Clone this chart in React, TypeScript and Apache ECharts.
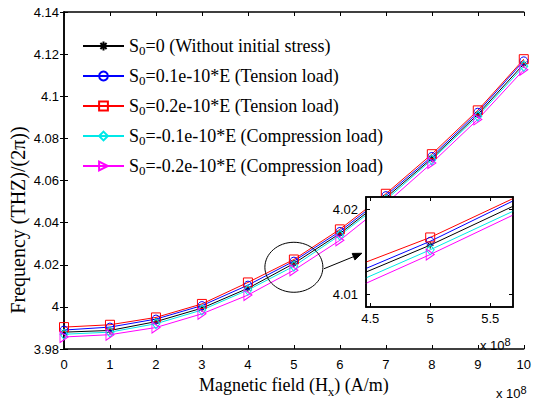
import React, { useEffect, useRef } from 'react';
import * as echarts from 'echarts';

// ---------- data ----------
const fieldValues = [0, 1, 2, 3, 4, 5, 6, 7, 8, 9, 10]; // x 10^8 A/m
const seriesNames = [
  'S0=0 (Without initial stress)',
  'S0=0.1e-10*E (Tension load)',
  'S0=0.2e-10*E (Tension load)',
  'S0=-0.1e-10*E (Compression load)',
  'S0=-0.2e-10*E (Compression load)',
];
const noStress = [3.988, 3.9888, 3.993, 3.9994, 4.0088, 4.0206, 4.0348, 4.0518, 4.0705, 4.0914, 4.1153];
const tension01 = [3.989, 3.9904, 3.9942, 4.0006, 4.0103, 4.0217, 4.0358, 4.0528, 4.0714, 4.0924, 4.1168];
const tension02 = [3.9904, 3.9915, 3.995, 4.0014, 4.0116, 4.0225, 4.0368, 4.0537, 4.0725, 4.0933, 4.1176];
const compression01 = [3.987, 3.988, 3.992, 3.9985, 4.008, 4.0193, 4.034, 4.0508, 4.0698, 4.0905, 4.1142];
const compression02 = [3.9857, 3.9868, 3.9902, 3.9967, 4.0056, 4.0174, 4.0316, 4.049, 4.0683, 4.089, 4.1126];

// inset (zoomed view around 5 x 10^8)
const insetField = [4, 5, 6];
const insetNoStress = [4.0099, 4.0158, 4.0224];
const insetTension01 = [4.0103, 4.01625, 4.0231];
const insetTension02 = [4.0113, 4.0167, 4.0233];
const insetCompression01 = [4.0091, 4.01525, 4.0218];
const insetCompression02 = [4.0084, 4.0147, 4.0214];
const insetXTicks = [4.5, 5, 5.5];
const insetYTicks = [4.01, 4.02];

// ---------- styles ----------
const SERIF = "'Liberation Serif', 'Times New Roman', serif";
const SANS = "'Liberation Sans', Arial, sans-serif";
const ASTERISK = 'path://M5,0L5,10M0,5L10,5M1.5,1.5L8.5,8.5M1.5,8.5L8.5,1.5';
const TRIANGLE_RIGHT = 'path://M0,0L8,5.5L0,11Z';

const looks: { color: string; symbol: string; size: number | number[] }[] = [
  { color: '#000000', symbol: ASTERISK, size: 7 },
  { color: '#0000ff', symbol: 'circle', size: 8 },
  { color: '#ff0000', symbol: 'rect', size: 9 },
  { color: '#00e8e8', symbol: 'diamond', size: [8, 10] },
  { color: '#ff00ff', symbol: TRIANGLE_RIGHT, size: [8, 11] },
];

function makeSeries(name: string, xs: number[], ys: number[], look: any, axisIndex: number, z: number) {
  return {
    type: 'line',
    name,
    data: xs.map((x, i) => [x, ys[i]]),
    xAxisIndex: axisIndex,
    yAxisIndex: axisIndex,
    symbol: look.symbol,
    symbolSize: look.size,
    showAllSymbol: true,
    clip: true,
    z,
    lineStyle: { color: look.color, width: 1 },
    itemStyle: { color: 'transparent', borderColor: look.color, borderWidth: 1 },
    emphasis: { disabled: true },
  };
}

export default function App() {
  const ref = useRef<HTMLDivElement>(null);
  useEffect(() => {
    if (!ref.current) return;
    const chart = echarts.init(ref.current, undefined, { renderer: 'svg' });
    const mainSets = [noStress, tension01, tension02, compression01, compression02];
    const insetSets = [insetNoStress, insetTension01, insetTension02, insetCompression01, insetCompression02];

    const tickLabel = { color: '#000', fontFamily: SANS, fontSize: 13 };
    const axisLine = { show: true, lineStyle: { color: '#000', width: 1.5 } };
    const inTick = { show: true, inside: true, length: 4, lineStyle: { color: '#000', width: 1 } };

    const option: any = {
      animation: false,
      backgroundColor: '#fff',
      grid: [
        { left: 64, top: 12, right: 7, bottom: 52, show: false },
        {
          left: 366, top: 197, width: 147, height: 110, show: true, z: 10,
          backgroundColor: '#fff', borderColor: '#000', borderWidth: 1.5,
        },
      ],
      legend: {
        data: seriesNames,
        orient: 'vertical',
        left: 82,
        top: 37,
        padding: 0,
        itemGap: 10,
        itemWidth: 41,
        itemHeight: 11,
        selectedMode: false,
        formatter: (name: string) => `{a|S}{s|0}{a|${name.slice(2)}}`,
        textStyle: {
          color: '#000',
          fontFamily: SERIF,
          fontSize: 18,
          rich: {
            a: { fontFamily: SERIF, fontSize: 18, lineHeight: 22, color: '#000' },
            s: { fontFamily: SERIF, fontSize: 13, lineHeight: 8, verticalAlign: 'bottom', color: '#000' },
          },
        },
      },
      xAxis: [
        {
          type: 'value', gridIndex: 0, min: 0, max: 10, interval: 1, position: 'bottom',
          axisLine, axisTick: inTick, splitLine: { show: false },
          axisLabel: { ...tickLabel, margin: 9 },
          name: '{a|Magnetic field (H}{s|x}{a|) (A/m)}',
          nameLocation: 'middle',
          nameGap: 23,
          nameTextStyle: {
            fontFamily: SERIF, fontSize: 18, color: '#000',
            rich: {
              a: { fontFamily: SERIF, fontSize: 18, lineHeight: 26, color: '#000' },
              s: { fontFamily: SERIF, fontSize: 13, lineHeight: 4, verticalAlign: 'bottom', color: '#000' },
            },
          },
        },
        {
          type: 'value', gridIndex: 0, min: 0, max: 10, interval: 1, position: 'top',
          axisLine, axisTick: inTick, axisLabel: { show: false }, splitLine: { show: false },
        },
        {
          type: 'value', gridIndex: 1, min: 4.465, max: 5.69, position: 'bottom', z: 12,
          axisLine, splitLine: { show: false },
          axisTick: { ...inTick, customValues: insetXTicks },
          axisLabel: { ...tickLabel, margin: 5, customValues: insetXTicks },
        },
        {
          type: 'value', gridIndex: 1, min: 4.465, max: 5.69, position: 'top', z: 12,
          axisLine, splitLine: { show: false },
          axisTick: { ...inTick, customValues: insetXTicks },
          axisLabel: { show: false },
        },
      ],
      yAxis: [
        {
          type: 'value', gridIndex: 0, min: 3.98, max: 4.14, interval: 0.02, position: 'left',
          axisLine, axisTick: inTick, splitLine: { show: false },
          axisLabel: { ...tickLabel, margin: 5 },
        },
        {
          type: 'value', gridIndex: 0, min: 3.98, max: 4.14, interval: 0.02, position: 'right',
          axisLine, axisTick: inTick, axisLabel: { show: false }, splitLine: { show: false },
        },
        {
          type: 'value', gridIndex: 1, min: 4.00855, max: 4.02144, position: 'left', z: 12,
          axisLine, splitLine: { show: false },
          axisTick: { ...inTick, customValues: insetYTicks },
          axisLabel: { ...tickLabel, margin: 8, customValues: insetYTicks },
        },
        {
          type: 'value', gridIndex: 1, min: 4.00855, max: 4.02144, position: 'right', z: 12,
          axisLine, splitLine: { show: false },
          axisTick: { ...inTick, customValues: insetYTicks },
          axisLabel: { show: false },
        },
      ],
      series: [
        ...seriesNames.map((n, i) => makeSeries(n, fieldValues, mainSets[i], looks[i], 0, 2)),
        ...seriesNames.map((n, i) => ({ ...makeSeries(n, insetField, insetSets[i], looks[i], 2, 11), yAxisIndex: 2 })),
      ],
    };
    chart.setOption(option);

    // annotations: ellipse around x = 5 and arrow to the inset
    const c = chart.convertToPixel({ gridIndex: 0 }, [5, 4.0188]) as number[];
    const cx = c[0];
    const cy = c[1];
    const start = [cx + 30, cy + 1.5];
    const tip = [cx + 68, cy - 14];
    const dx = tip[0] - start[0];
    const dy = tip[1] - start[1];
    const len = Math.hypot(dx, dy);
    const ux = dx / len;
    const uy = dy / len;
    const base = [tip[0] - ux * 9, tip[1] - uy * 9];
    const nx = -uy * 3.5;
    const ny = ux * 3.5;

    chart.setOption({
      graphic: [
        {
          type: 'ellipse', z: 5, silent: true,
          shape: { cx, cy, rx: 29, ry: 25 },
          style: { fill: 'none', stroke: '#000', lineWidth: 1 },
        },
        {
          type: 'line', z: 15, silent: true,
          shape: { x1: start[0], y1: start[1], x2: base[0], y2: base[1] },
          style: { stroke: '#000', lineWidth: 1 },
        },
        {
          type: 'polygon', z: 15, silent: true,
          shape: { points: [tip, [base[0] + nx, base[1] + ny], [base[0] - nx, base[1] - ny]] },
          style: { fill: '#000', stroke: '#000' },
        },
        {
          type: 'text', z: 15, silent: true, x: 18, y: 220, rotation: Math.PI / 2,
          style: {
            text: 'Frequency (THZ)/(2π))', fill: '#000', fontFamily: SERIF, fontSize: 20,
            align: 'center', verticalAlign: 'middle',
          },
        },
        {
          type: 'text', z: 15, silent: true, x: 496, y: 384,
          style: {
            text: '{a|x 10}{p|8}', align: 'left', verticalAlign: 'top', fill: '#000',
            rich: {
              a: { fontFamily: SANS, fontSize: 13, lineHeight: 18, fill: '#000' },
              p: { fontFamily: SANS, fontSize: 11, lineHeight: 8, verticalAlign: 'top', fill: '#000' },
            },
          },
        },
        {
          type: 'text', z: 15, silent: true, x: 480, y: 336,
          style: {
            text: '{a|x 10}{p|8}', align: 'left', verticalAlign: 'top', fill: '#000',
            rich: {
              a: { fontFamily: SANS, fontSize: 13, lineHeight: 18, fill: '#000' },
              p: { fontFamily: SANS, fontSize: 11, lineHeight: 8, verticalAlign: 'top', fill: '#000' },
            },
          },
        },
      ],
    });

    return () => chart.dispose();
  }, []);

  return (
    <div
      ref={ref}
      style={{ position: 'fixed', left: 0, top: 0, width: 534, height: 403, background: '#fff' }}
    />
  );
}
